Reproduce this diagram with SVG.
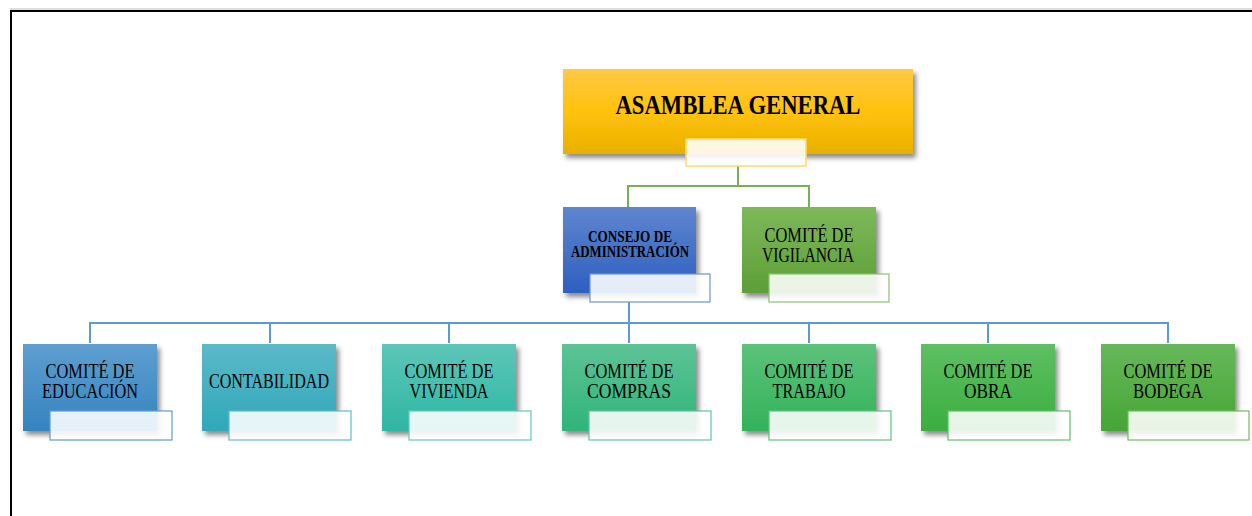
<svg xmlns="http://www.w3.org/2000/svg" width="1252" height="516" viewBox="0 0 1252 516">
<style>
.t{font-family:"Liberation Serif","Times New Roman",serif;fill:#000;text-anchor:middle}
.n{font-size:20px}
.sub{fill:#fff;fill-opacity:0.88}
.ln{fill:none;stroke-width:2}
</style>
<defs>
<filter id="sh" x="-10%" y="-10%" width="130%" height="140%">
<feDropShadow dx="3" dy="4" stdDeviation="2.5" flood-color="#000" flood-opacity="0.45"/>
</filter>
<linearGradient id="gY" x1="0" y1="0" x2="0" y2="1"><stop offset="0" stop-color="#FFC845"/><stop offset="0.5" stop-color="#FFC20A"/><stop offset="1" stop-color="#E8B000"/></linearGradient>
<linearGradient id="gB" x1="0" y1="0" x2="0" y2="1"><stop offset="0" stop-color="#5E86CF"/><stop offset="1" stop-color="#2E5FBF"/></linearGradient>
<linearGradient id="gV" x1="0" y1="0" x2="0" y2="1"><stop offset="0" stop-color="#7DB85A"/><stop offset="1" stop-color="#5E9E37"/></linearGradient>
<linearGradient id="g1" x1="0" y1="0" x2="0" y2="1"><stop offset="0" stop-color="#5E9ED0"/><stop offset="1" stop-color="#3584C0"/></linearGradient>
<linearGradient id="g2" x1="0" y1="0" x2="0" y2="1"><stop offset="0" stop-color="#5BB9C8"/><stop offset="1" stop-color="#30A8B9"/></linearGradient>
<linearGradient id="g3" x1="0" y1="0" x2="0" y2="1"><stop offset="0" stop-color="#5CC6B8"/><stop offset="1" stop-color="#2FB6A3"/></linearGradient>
<linearGradient id="g4" x1="0" y1="0" x2="0" y2="1"><stop offset="0" stop-color="#5CC396"/><stop offset="1" stop-color="#30B47A"/></linearGradient>
<linearGradient id="g5" x1="0" y1="0" x2="0" y2="1"><stop offset="0" stop-color="#5CC27A"/><stop offset="1" stop-color="#33B25A"/></linearGradient>
<linearGradient id="g6" x1="0" y1="0" x2="0" y2="1"><stop offset="0" stop-color="#5EBF62"/><stop offset="1" stop-color="#3AAE40"/></linearGradient>
<linearGradient id="g7" x1="0" y1="0" x2="0" y2="1"><stop offset="0" stop-color="#66B85A"/><stop offset="1" stop-color="#46A535"/></linearGradient>
</defs>

<rect x="0" y="0" width="1252" height="516" fill="#fff"/>
<line x1="10" y1="9" x2="1252" y2="9" stroke="#bbb" stroke-width="1"/>
<polyline points="11,516 11,11 1252,11" fill="none" stroke="#000" stroke-width="2"/>

<g id="connectors">
<polyline class="ln" stroke="#76B255" points="628,207 628,186 809,186 809,207"/>
<line class="ln" stroke="#76B255" x1="738" y1="166" x2="738" y2="186"/>
<line class="ln" stroke="#5B9BD5" x1="629" y1="302" x2="629" y2="323"/>
<polyline class="ln" stroke="#5B9BD5" points="90,343 90,323 1168,323 1168,343"/>
<line class="ln" stroke="#5B9BD5" x1="270" y1="323" x2="270" y2="343"/>
<line class="ln" stroke="#5B9BD5" x1="449" y1="323" x2="449" y2="343"/>
<line class="ln" stroke="#5B9BD5" x1="629" y1="323" x2="629" y2="343"/>
<line class="ln" stroke="#5B9BD5" x1="809" y1="323" x2="809" y2="343"/>
<line class="ln" stroke="#5B9BD5" x1="988" y1="323" x2="988" y2="343"/>
</g>

<g id="asamblea">
<rect x="563" y="69" width="350" height="85" fill="url(#gY)" filter="url(#sh)"/>
<text class="t" x="738" y="114" font-size="28" font-weight="bold" textLength="245" lengthAdjust="spacingAndGlyphs">ASAMBLEA GENERAL</text>
<rect class="sub" x="686" y="139" width="120" height="27" stroke="#FFD966" stroke-width="1.5"/>
</g>

<g id="consejo">
<rect x="563" y="207" width="133" height="86" fill="url(#gB)" filter="url(#sh)"/>
<text class="t" font-size="16" font-weight="bold"><tspan x="630" y="242" textLength="84" lengthAdjust="spacingAndGlyphs">CONSEJO DE</tspan><tspan x="630" y="257" textLength="118" lengthAdjust="spacingAndGlyphs">ADMINISTRACIÓN</tspan></text>
<rect class="sub" x="590" y="274" width="120" height="28" stroke="#6F93D6" stroke-width="1.2"/>
</g>

<g id="vigilancia">
<rect x="742" y="207" width="134" height="86" fill="url(#gV)" filter="url(#sh)"/>
<text class="t n"><tspan x="809" y="242" textLength="89" lengthAdjust="spacingAndGlyphs">COMITÉ DE</tspan><tspan x="808" y="262" textLength="92" lengthAdjust="spacingAndGlyphs">VIGILANCIA</tspan></text>
<rect class="sub" x="769" y="274" width="120" height="28" stroke="#8CC26E" stroke-width="1.2"/>
</g>

<g id="educacion">
<rect x="23" y="344" width="134" height="87" fill="url(#g1)" filter="url(#sh)"/>
<text class="t n"><tspan x="90" y="378" textLength="89" lengthAdjust="spacingAndGlyphs">COMITÉ DE</tspan><tspan x="90" y="398" textLength="96" lengthAdjust="spacingAndGlyphs">EDUCACIÓN</tspan></text>
<rect class="sub" x="50" y="411" width="122" height="29" stroke="#5B9BD5" stroke-width="1.2"/>
</g>

<g id="contabilidad">
<rect x="202" y="344" width="134" height="87" fill="url(#g2)" filter="url(#sh)"/>
<text class="t n" x="269" y="388" textLength="120" lengthAdjust="spacingAndGlyphs">CONTABILIDAD</text>
<rect class="sub" x="229" y="411" width="122" height="29" stroke="#5BBCCB" stroke-width="1.2"/>
</g>

<g id="vivienda">
<rect x="382" y="344" width="134" height="87" fill="url(#g3)" filter="url(#sh)"/>
<text class="t n"><tspan x="449" y="378" textLength="89" lengthAdjust="spacingAndGlyphs">COMITÉ DE</tspan><tspan x="449" y="398" textLength="79" lengthAdjust="spacingAndGlyphs">VIVIENDA</tspan></text>
<rect class="sub" x="409" y="411" width="122" height="29" stroke="#5DCBB9" stroke-width="1.2"/>
</g>

<g id="compras">
<rect x="562" y="344" width="134" height="87" fill="url(#g4)" filter="url(#sh)"/>
<text class="t n"><tspan x="629" y="378" textLength="89" lengthAdjust="spacingAndGlyphs">COMITÉ DE</tspan><tspan x="629" y="398" textLength="84" lengthAdjust="spacingAndGlyphs">COMPRAS</tspan></text>
<rect class="sub" x="589" y="411" width="122" height="29" stroke="#5CC79B" stroke-width="1.2"/>
</g>

<g id="trabajo">
<rect x="742" y="344" width="134" height="87" fill="url(#g5)" filter="url(#sh)"/>
<text class="t n"><tspan x="809" y="378" textLength="89" lengthAdjust="spacingAndGlyphs">COMITÉ DE</tspan><tspan x="809" y="398" textLength="73" lengthAdjust="spacingAndGlyphs">TRABAJO</tspan></text>
<rect class="sub" x="769" y="411" width="122" height="29" stroke="#5CC47F" stroke-width="1.2"/>
</g>

<g id="obra">
<rect x="921" y="344" width="134" height="87" fill="url(#g6)" filter="url(#sh)"/>
<text class="t n"><tspan x="988" y="378" textLength="89" lengthAdjust="spacingAndGlyphs">COMITÉ DE</tspan><tspan x="988" y="398" textLength="48" lengthAdjust="spacingAndGlyphs">OBRA</tspan></text>
<rect class="sub" x="948" y="411" width="122" height="29" stroke="#5EC266" stroke-width="1.2"/>
</g>

<g id="bodega">
<rect x="1101" y="344" width="134" height="87" fill="url(#g7)" filter="url(#sh)"/>
<text class="t n"><tspan x="1168" y="378" textLength="89" lengthAdjust="spacingAndGlyphs">COMITÉ DE</tspan><tspan x="1168" y="398" textLength="70" lengthAdjust="spacingAndGlyphs">BODEGA</tspan></text>
<rect class="sub" x="1128" y="411" width="121" height="29" stroke="#6DBE5E" stroke-width="1.2"/>
</g>
</svg>
